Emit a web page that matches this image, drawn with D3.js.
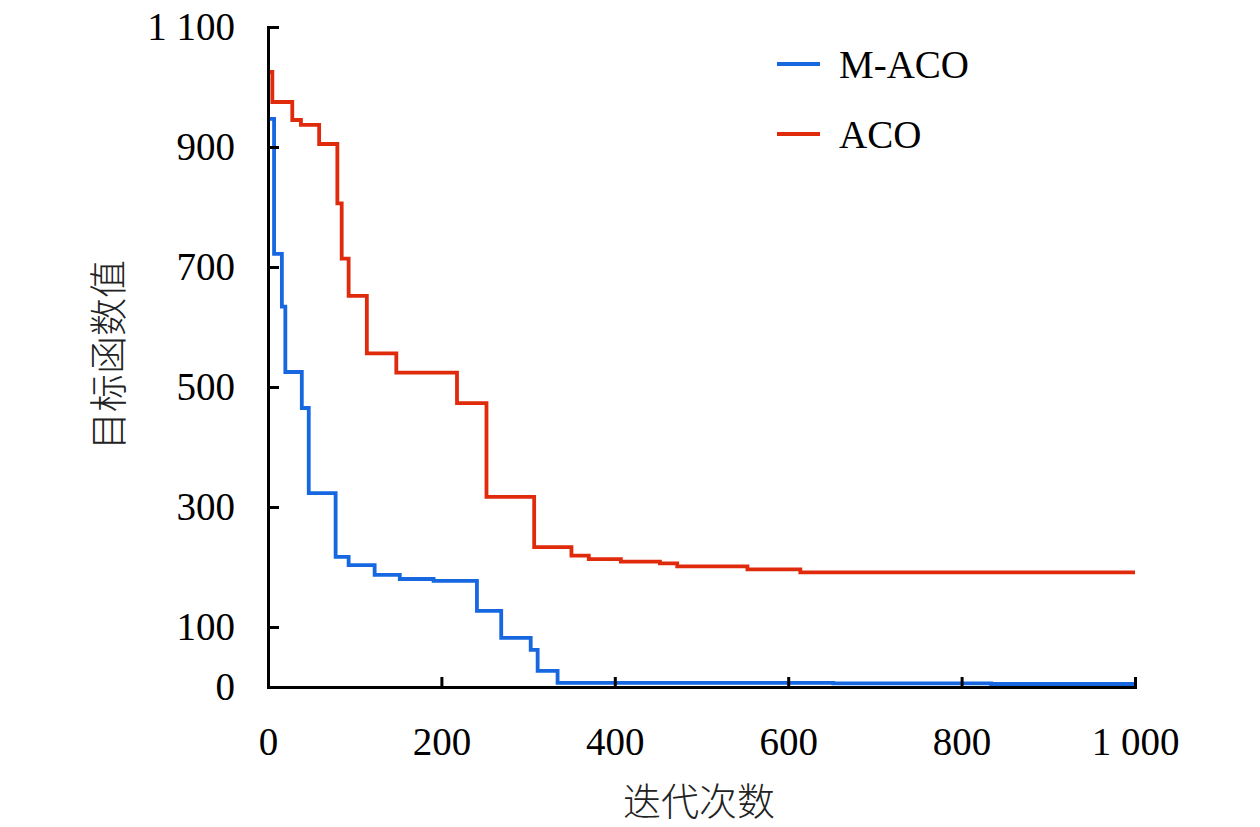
<!DOCTYPE html>
<html><head>
<meta charset="utf-8">
<style>
body { margin: 0; background: #fff; }
.axis text { font-family: "Liberation Serif", "Times New Roman", serif; font-size: 39px; fill: #000; }
.axis path, .axis line { stroke: #000; stroke-width: 3; }
.title { font-family: "Noto Sans CJK SC", serif; font-size: 38px; font-weight: 300; fill: #222; }
.legend text { font-family: "Liberation Serif", "Times New Roman", serif; font-size: 39px; fill: #000; }
</style>
</head>
<body>
<svg width="1260" height="827"></svg>
<script src="https://d3js.org/d3.v7.min.js"></script>
<script>

// iteration where each step starts, and its objective value
var macoIter = [0, 7, 16, 20, 39, 47, 78, 93, 123, 152, 191, 241, 269, 303, 311, 334, 652, 834, 1000];
var macoVal  = [947, 722, 634, 525, 465, 323, 217, 203, 187, 180, 177, 127, 82, 62, 27, 7, 6, 5, 5];

var acoIter = [0, 5, 28, 38, 59, 80, 85, 93, 114, 148, 218, 252, 307, 350, 370, 407, 452, 472, 553, 614, 1000];
var acoVal  = [1025, 975, 945, 937, 905, 806, 714, 652, 556, 524, 473, 317, 233, 219, 213, 209, 206, 201, 196, 191, 191];

var xTicks = [0, 200, 400, 600, 800, 1000];
var yTicks = [0, 100, 300, 500, 700, 900, 1100];

var seriesNames = ["M-ACO", "ACO"];
var colors = ["#1667e0", "#e02a0c"];

var svg = d3.select("svg"),
    margin = {top: 27, right: 125, bottom: 140, left: 268},
    width = +svg.attr("width") - margin.left - margin.right,
    height = +svg.attr("height") - margin.top - margin.bottom;

var x = d3.scaleLinear().domain([0, 1000]).range([0, width]),
    y = d3.scaleLinear().domain([0, 1100]).range([height, 0]);

var fmt = d3.formatLocale({decimal: ".", thousands: " ", grouping: [3], currency: ["", ""]}).format(",");

var g = svg.append("g")
    .attr("transform", "translate(" + margin.left + "," + margin.top + ")");

var line = d3.line()
    .x(function(d) { return x(d[0]); })
    .y(function(d) { return y(d[1]); })
    .curve(d3.curveStepAfter);

var series = [
  d3.zip(macoIter, macoVal),
  d3.zip(acoIter, acoVal)
];

g.selectAll(".series")
  .data(series)
  .enter().append("path")
    .attr("class", "series")
    .attr("fill", "none")
    .attr("stroke", function(d, i) { return colors[i]; })
    .attr("stroke-width", 3.8)
    .attr("d", line);

g.append("g")
    .attr("class", "axis")
    .attr("transform", "translate(0," + height + ")")
    .call(d3.axisBottom(x).tickValues(xTicks).tickFormat(fmt).tickSizeInner(-10).tickSizeOuter(0).tickPadding(40));

g.append("g")
    .attr("class", "axis")
    .call(d3.axisLeft(y).tickValues(yTicks).tickFormat(fmt).tickSizeInner(-11).tickSizeOuter(0).tickPadding(33));

g.selectAll(".axis path").attr("stroke-linecap", "square");

// axis titles
svg.append("text")
    .attr("class", "title")
    .attr("x", 699)
    .attr("y", 815)
    .attr("text-anchor", "middle")
    .text("迭代次数");

svg.append("text")
    .attr("class", "title")
    .attr("transform", "translate(105,355) rotate(-90)")
    .attr("text-anchor", "middle")
    .attr("dominant-baseline", "central")
    .text("目标函数值");

// legend
var legend = svg.append("g").attr("class", "legend")
  .selectAll("g")
  .data(seriesNames)
  .enter().append("g")
    .attr("transform", function(d, i) { return "translate(777," + (64 + i * 70) + ")"; });

legend.append("line")
    .attr("x1", 0).attr("x2", 43)
    .attr("stroke", function(d, i) { return colors[i]; })
    .attr("stroke-width", 3.8);

legend.append("text")
    .attr("x", 62)
    .attr("y", 14)
    .text(function(d) { return d; });

</script>
</body></html>
